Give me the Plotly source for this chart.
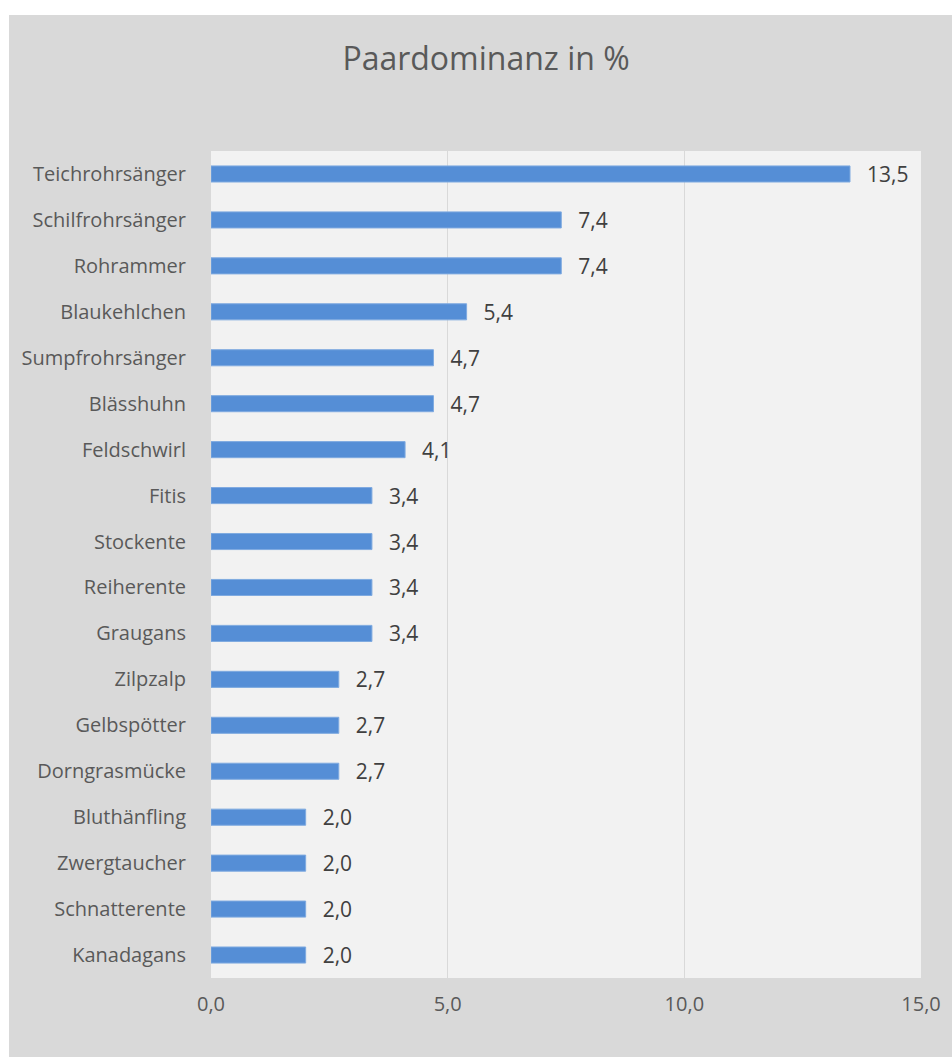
import plotly.graph_objects as go

# Species, listed top to bottom, and their pair dominance in percent
species = [
    "Teichrohrsänger", "Schilfrohrsänger", "Rohrammer", "Blaukehlchen",
    "Sumpfrohrsänger", "Blässhuhn", "Feldschwirl", "Fitis", "Stockente",
    "Reiherente", "Graugans", "Zilpzalp", "Gelbspötter", "Dorngrasmücke",
    "Bluthänfling", "Zwergtaucher", "Schnatterente", "Kanadagans",
]
dominance = [13.5, 7.4, 7.4, 5.4, 4.7, 4.7, 4.1, 3.4, 3.4, 3.4, 3.4,
             2.7, 2.7, 2.7, 2.0, 2.0, 2.0, 2.0]
x_ticks = [0, 5, 10, 15]

W, H = 952, 1057
L, R, T, B = 211, 31, 151, 79
pw, ph = W - L - R, H - T - B

FONT = "Open Sans"

fig = go.Figure(
    go.Bar(
        x=dominance,
        y=species,
        orientation="h",
        marker=dict(color="#558ed6", line=dict(color="#7faae0", width=1)),
        texttemplate="\u2002\u2009%{x:.1f}",
        textposition="outside",
        constraintext="none",
        textfont=dict(family=FONT, size=21, color="#404040"),
        cliponaxis=False,
        hoverinfo="skip",
    )
)

# white strips along the top and left edge of the page
shapes = [
    dict(type="rect", xref="paper", yref="paper", layer="above",
         x0=-L / pw, x1=(W - L) / pw + 0.01, y0=1 + (T - 15) / ph, y1=1 + T / ph + 0.01,
         fillcolor="white", line=dict(width=0)),
    dict(type="rect", xref="paper", yref="paper", layer="above",
         x0=-L / pw - 0.01, x1=-(L - 9) / pw, y0=-B / ph - 0.01, y1=1 + T / ph + 0.01,
         fillcolor="white", line=dict(width=0)),
]

fig.update_layout(
    width=W,
    height=H,
    margin=dict(l=L, r=R, t=T, b=B, pad=0),
    paper_bgcolor="#d9d9d9",
    plot_bgcolor="#f2f2f2",
    separators=",.",
    showlegend=False,
    bargap=0.65,
    font=dict(family=FONT, color="#595959"),
    title=dict(
        text="Paardominanz in %",
        x=(486 - L) / pw, xref="paper", xanchor="center",
        y=1 - 59 / H, yref="container", yanchor="middle",
        font=dict(family=FONT, size=32, color="#595959"),
    ),
    shapes=shapes,
    xaxis=dict(
        range=[0, 15],
        tickvals=x_ticks,
        tickformat=".1f",
        showgrid=True,
        gridcolor="#d9d9d9",
        gridwidth=1,
        zeroline=False,
        showline=False,
        ticks="",
        ticklabelstandoff=12,
        tickfont=dict(family=FONT, size=20, color="#595959"),
    ),
    yaxis=dict(
        autorange="reversed",
        showgrid=False,
        zeroline=False,
        showline=False,
        ticks="",
        ticklabelstandoff=24,
        tickfont=dict(family=FONT, size=20, color="#595959"),
    ),
)

fig.write_html("out.html")
